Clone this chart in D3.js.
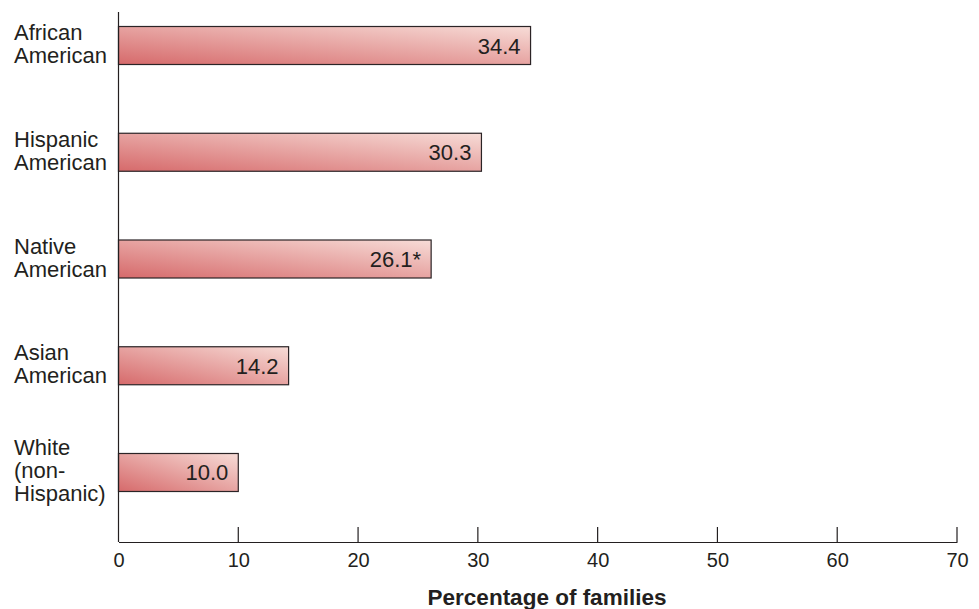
<!DOCTYPE html>
<html lang="en">
<head>
<meta charset="utf-8">
<title>Percentage of families by group</title>
<script src="https://cdn.jsdelivr.net/npm/d3@7"></script>
<style>
  body { margin: 0; background: #fff; }
  text { font-family: "Liberation Sans", Arial, Helvetica, sans-serif; fill: #231f20; }
</style>
</head>
<body>
<script>
var categories = [
  ["African", "American"],
  ["Hispanic", "American"],
  ["Native", "American"],
  ["Asian", "American"],
  ["White", "(non-", "Hispanic)"]
];
var values = [34.4, 30.3, 26.1, 14.2, 10.0];
var valueLabels = ["34.4", "30.3", "26.1*", "14.2", "10.0"];
var xTicks = [0, 10, 20, 30, 40, 50, 60, 70];

var width = 979, height = 609;
var plotLeft = 118.5, plotRight = 957, plotTop = 12, plotBottom = 542;

var svg = d3.select("body").append("svg")
  .attr("width", width)
  .attr("height", height);

var defs = svg.append("defs");
var grad = defs.append("linearGradient")
  .attr("id", "barGrad")
  .attr("x1", "0").attr("y1", "1")
  .attr("x2", "1").attr("y2", "0");
grad.append("stop").attr("offset", "0%").attr("stop-color", "#d66a6b");
grad.append("stop").attr("offset", "100%").attr("stop-color", "#f7dcd7");

var x = d3.scaleLinear().domain([0, 70]).range([plotLeft, plotRight]);
var y = d3.scaleBand()
  .domain(d3.range(values.length))
  .range([26.5, 491.5])
  .paddingInner(0.644)
  .paddingOuter(0);

// bars
svg.selectAll("rect.bar")
  .data(values)
  .enter()
  .append("rect")
  .attr("class", "bar")
  .attr("x", x(0))
  .attr("y", function(d, i) { return y(i); })
  .attr("width", function(d) { return x(d) - x(0); })
  .attr("height", y.bandwidth())
  .attr("fill", "url(#barGrad)")
  .attr("stroke", "#2b2426")
  .attr("stroke-width", 1.2);

// value labels inside bars
svg.selectAll("text.val")
  .data(values)
  .enter()
  .append("text")
  .attr("class", "val")
  .attr("x", function(d) { return x(d) - 10; })
  .attr("y", function(d, i) { return y(i) + y.bandwidth() / 2 + 8; })
  .attr("text-anchor", "end")
  .attr("font-size", "22px")
  .text(function(d, i) { return valueLabels[i]; });

// category labels
svg.selectAll("text.cat")
  .data(categories)
  .enter()
  .append("text")
  .attr("class", "cat")
  .attr("font-size", "22px")
  .each(function(lines, i) {
    var cy = y(i) + y.bandwidth() / 2;
    var lh = 23;
    var start = cy - (lines.length - 1) * lh / 2 + 6;
    d3.select(this).selectAll("tspan")
      .data(lines)
      .enter()
      .append("tspan")
      .attr("x", 14)
      .attr("y", function(d, j) { return start + j * lh; })
      .text(function(d) { return d; });
  });

// x axis
var xAxis = d3.axisBottom(x)
  .tickValues(xTicks)
  .tickSize(0)
  .tickPadding(11);
var gx = svg.append("g")
  .attr("transform", "translate(0," + plotBottom + ")")
  .call(xAxis);
gx.attr("font-size", null).attr("font-family", null);
gx.select(".domain").attr("stroke", "#231f20").attr("stroke-width", 1.2);
gx.selectAll(".tick text")
  .style("font-size", "20px")
  .attr("fill", "#231f20");

// upward ticks
svg.selectAll("line.tick-up")
  .data(xTicks.slice(1))
  .enter()
  .append("line")
  .attr("x1", function(d) { return x(d); })
  .attr("x2", function(d) { return x(d); })
  .attr("y1", plotBottom)
  .attr("y2", plotBottom - 15)
  .attr("stroke", "#231f20")
  .attr("stroke-width", 1.2);

// y axis line
svg.append("line")
  .attr("x1", x(0)).attr("x2", x(0))
  .attr("y1", plotTop).attr("y2", plotBottom)
  .attr("stroke", "#231f20")
  .attr("stroke-width", 1.2);

// axis title
svg.append("text")
  .attr("x", 547)
  .attr("y", 605)
  .attr("text-anchor", "middle")
  .attr("font-size", "22.5px")
  .attr("font-weight", "bold")
  .text("Percentage of families");
</script>
</body>
</html>
